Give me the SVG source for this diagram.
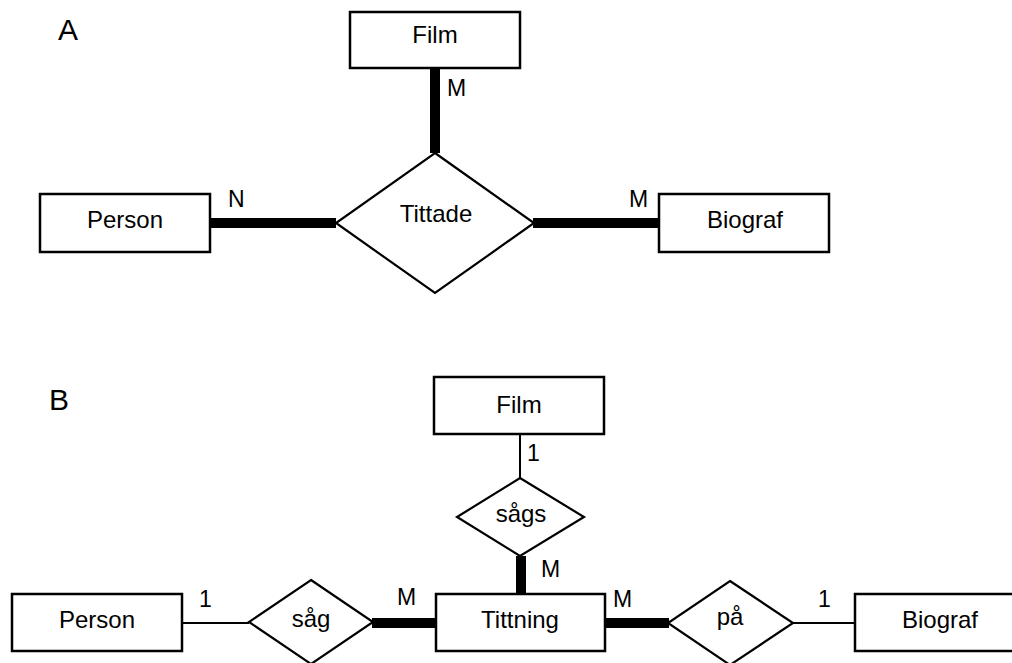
<svg xmlns="http://www.w3.org/2000/svg" width="1012" height="663" viewBox="0 0 1012 663">
<style>
.ent{fill:#fff;stroke:#000;stroke-width:2.5}
.rel{fill:#fff;stroke:#000;stroke-width:2.2}
.t{font-family:"Liberation Sans",Arial,sans-serif;font-size:24px;fill:#000;text-anchor:middle}
.c{font-family:"Liberation Sans",Arial,sans-serif;font-size:23px;fill:#000}
.h{font-family:"Liberation Sans",Arial,sans-serif;font-size:30px;fill:#000}
.thick{stroke:#000;stroke-width:10;fill:none}
.thin{stroke:#000;stroke-width:2;fill:none}
</style>
<rect width="1012" height="663" fill="#fff"/>
<text class="h" x="58" y="40">A</text>
<text class="h" x="49" y="410">B</text>
<g id="connectors">
<line class="thick" x1="435" y1="68" x2="435" y2="153"/>
<line class="thick" x1="210" y1="223" x2="336" y2="223"/>
<line class="thick" x1="533" y1="223" x2="659" y2="223"/>
<line class="thin" x1="520" y1="434" x2="520" y2="478"/>
<line class="thick" x1="521" y1="556" x2="521" y2="594"/>
<line class="thin" x1="182" y1="623" x2="249" y2="623"/>
<line class="thick" x1="372" y1="623" x2="436" y2="623"/>
<line class="thick" x1="605" y1="623" x2="669" y2="623"/>
<line class="thin" x1="793" y1="623" x2="855" y2="623"/>
<text class="c" x="447" y="96">M</text>
<text class="c" x="228" y="207">N</text>
<text class="c" x="629" y="207">M</text>
<text class="c" x="527" y="461">1</text>
<text class="c" x="541" y="577">M</text>
<text class="c" x="199" y="607">1</text>
<text class="c" x="397" y="605">M</text>
<text class="c" x="613" y="607">M</text>
<text class="c" x="818" y="607">1</text>
</g>
<g id="a-film"><rect class="ent" x="350" y="12" width="170" height="56"/><text class="t" x="435" y="43">Film</text></g>
<g id="a-tittade"><polygon class="rel" points="435,153 534,223 435,293 336,223"/><text class="t" x="436" y="222">Tittade</text></g>
<g id="a-person"><rect class="ent" x="40" y="194" width="170" height="58"/><text class="t" x="125" y="228">Person</text></g>
<g id="a-biograf"><rect class="ent" x="659" y="194" width="170" height="58"/><text class="t" x="745" y="228">Biograf</text></g>
<g id="b-film"><rect class="ent" x="434" y="377" width="170" height="57"/><text class="t" x="519" y="413">Film</text></g>
<g id="b-sags"><polygon class="rel" points="520,478 584,517 520,556 457,517"/><text class="t" x="521" y="522">sågs</text></g>
<g id="b-tittning"><rect class="ent" x="436" y="594" width="169" height="57"/><text class="t" x="520" y="628">Tittning</text></g>
<g id="b-person"><rect class="ent" x="12" y="594" width="170" height="57"/><text class="t" x="97" y="628">Person</text></g>
<g id="b-sag"><polygon class="rel" points="311,580 373,622 311,664 249,622"/><text class="t" x="311" y="627">såg</text></g>
<g id="b-pa"><polygon class="rel" points="730,581 793,623 730,665 668,623"/><text class="t" x="730" y="625">på</text></g>
<g id="b-biograf"><rect class="ent" x="855" y="594" width="170" height="57"/><text class="t" x="940" y="628">Biograf</text></g>
</svg>
